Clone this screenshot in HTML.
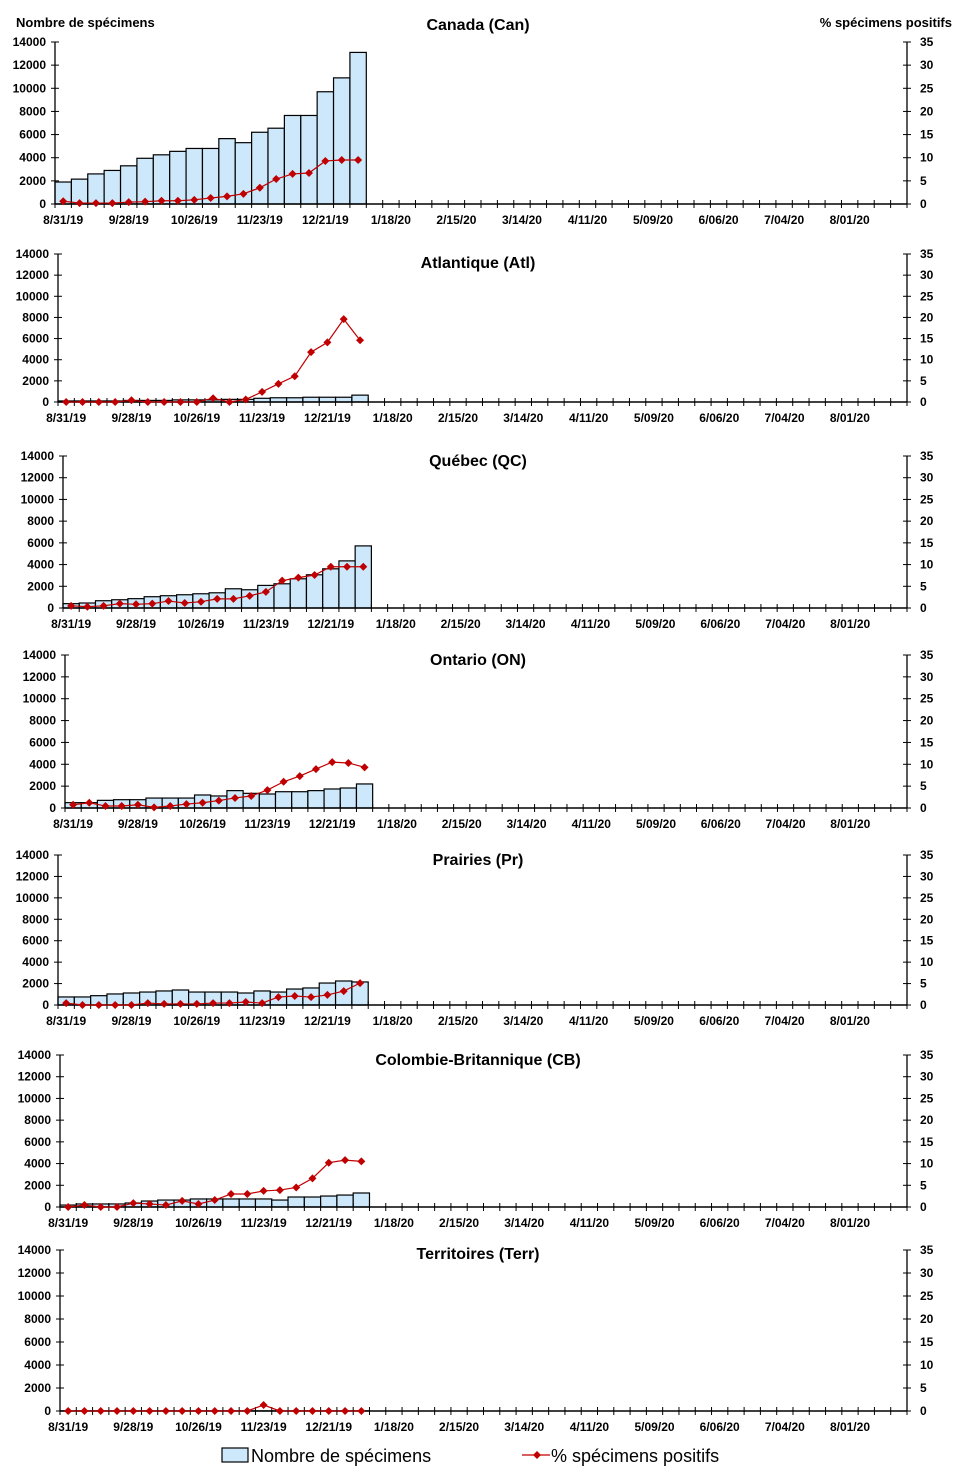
<!DOCTYPE html>
<html><head><meta charset="utf-8">
<style>
body{margin:0;background:#fff;}
svg{display:block;font-family:"Liberation Sans",Arial,sans-serif;}
.t{font-weight:bold;font-size:12px;fill:#000}
.ax{font-weight:bold;font-size:13px;fill:#000}
.ti{font-weight:bold;font-size:16px;fill:#000}
</style></head>
<body>
<svg id="c" width="958" height="1476" viewBox="0 0 958 1476"></svg>
<script>
const weekLabels=["8/31/19","9/28/19","10/26/19","11/23/19","12/21/19","1/18/20","2/15/20","3/14/20","4/11/20","5/09/20","6/06/20","7/04/20","8/01/20"];
const yTicksCount=[0,2000,4000,6000,8000,10000,12000,14000];
const yTicksPct=[0,5,10,15,20,25,30,35];
const titles=["Canada (Can)","Atlantique (Atl)","Québec (QC)","Ontario (ON)","Prairies (Pr)","Colombie-Britannique (CB)","Territoires (Terr)"];
const canCount=[1900,2150,2600,2900,3300,3950,4250,4550,4800,4800,5650,5300,6200,6550,7650,7650,9700,10900,13100];
const canPct=[0.6,0.2,0.2,0.2,0.4,0.5,0.7,0.7,0.9,1.3,1.65,2.2,3.5,5.4,6.5,6.7,9.3,9.5,9.5];
const atlCount=[100,100,100,100,150,150,150,200,200,200,250,250,350,400,400,450,450,450,650];
const atlPct=[0,0,0,0,0.4,0,0,0,0,0.9,0,0.6,2.4,4.3,6.1,11.8,14.1,19.6,14.6];
const qcCount=[400,460,670,760,860,1040,1130,1220,1310,1400,1770,1680,2080,2230,2690,3060,3610,4340,5720];
const qcPct=[0.5,0.3,0.5,1,0.85,1,1.6,1.15,1.45,2.1,2.1,2.8,3.7,6.3,7,7.6,9.5,9.5,9.5];
const onCount=[490,490,700,760,760,910,910,910,1190,1100,1590,1340,1280,1490,1490,1590,1740,1830,2200];
const onPct=[0.75,1.2,0.45,0.45,0.75,0.15,0.45,0.9,1.2,1.7,2.3,2.75,4.1,6,7.3,8.9,10.5,10.3,9.3];
const prCount=[750,750,870,1030,1120,1210,1310,1400,1210,1210,1210,1120,1310,1210,1490,1590,2050,2240,2150];
const prPct=[0.45,0,0,0,0,0.45,0.25,0.25,0.25,0.45,0.45,0.7,0.45,1.85,2.1,1.85,2.35,3.25,5.1];
const cbCount=[180,280,280,280,370,550,640,640,740,740,740,740,740,640,920,920,1010,1100,1290];
const cbPct=[0,0.45,0,0,0.9,0.7,0.45,1.4,0.7,1.6,3,3,3.7,3.9,4.5,6.6,10.2,10.8,10.5];
const terrCount=[10,10,10,10,10,10,10,10,10,10,10,10,10,10,10,10,10,10,10];
const terrPct=[0,0,0,0,0,0,0,0,0,0,0,0,1.3,0,0,0,0,0,0];
const counts=[canCount,atlCount,qcCount,onCount,prCount,cbCount,terrCount];
const pcts=[canPct,atlPct,qcPct,onPct,prPct,cbPct,terrPct];
const slugs=["canada","atlantique","quebec","ontario","prairies","colombie-britannique","territoires"];
const geom=[[55,42,204,25],[58,254,402,263],[63,456,608,461],[65,655,808,660],[58,855,1005,860],[60,1055,1207,1060],[60,1250,1411,1254]];
const RIGHT=907,NW=52;
const NS="http://www.w3.org/2000/svg";
const svg=document.getElementById('c');
function mk(tag,attrs,parent,text){const e=document.createElementNS(NS,tag);for(const k in attrs)e.setAttribute(k,attrs[k]);if(text!==undefined)e.textContent=text;(parent||svg).appendChild(e);return e;}
function diamond(x,y,p){return mk('polygon',{points:`${x},${y-4} ${x+4},${y} ${x},${y+4} ${x-4},${y}`,fill:'#c00000'},p);}
for(let pi=0;pi<7;pi++){
  const [L,T,B,TY]=geom[pi];
  const g=mk('g',{});
  
  
  const ww=(RIGHT-L)/NW;
  const xs=i=>L+i*ww;
  const yc=v=>B-(v/14000)*(B-T);
  const yp=v=>B-(v/35)*(B-T);
  const tt=mk('text',{x:478,y:TY+5,'text-anchor':'middle',class:'ti'},g,titles[pi]);
  
  
  counts[pi].forEach((v,i)=>{
    const r=mk('rect',{x:xs(i),y:yc(v),width:ww,height:B-yc(v),fill:'#cce8fa',stroke:'#000','stroke-width':1.2},g);
    
    
  });
  mk('line',{x1:L,y1:T,x2:L,y2:B,stroke:'#000','stroke-width':1.3},g);
  mk('line',{x1:RIGHT,y1:T,x2:RIGHT,y2:B,stroke:'#000','stroke-width':1.3},g);
  mk('line',{x1:L,y1:B,x2:RIGHT,y2:B,stroke:'#000','stroke-width':1.5},g);
  yTicksCount.forEach(v=>{
    mk('line',{x1:L-4,y1:yc(v),x2:L+4,y2:yc(v),stroke:'#000'},g);
    mk('text',{x:L-9,y:yc(v)+4,'text-anchor':'end',class:'t'},g,String(v));
  });
  yTicksPct.forEach(v=>{
    mk('line',{x1:RIGHT-4,y1:yp(v),x2:RIGHT+4,y2:yp(v),stroke:'#000'},g);
    mk('text',{x:RIGHT+13,y:yp(v)+4,class:'t'},g,String(v));
  });
  for(let i=0;i<=NW;i++) mk('line',{x1:xs(i),y1:B-4,x2:xs(i),y2:B+4,stroke:'#000'},g);
  weekLabels.forEach((l,k)=>{
    mk('text',{x:xs(k*4+0.5),y:B+20,'text-anchor':'middle',class:'t'},g,l);
  });
  const p=pcts[pi];
  mk('polyline',{points:p.map((v,i)=>`${xs(i+0.5)},${yp(v)}`).join(' '),fill:'none',stroke:'#c00000','stroke-width':1.2},g);
  p.forEach((v,i)=>{const d=diamond(xs(i+0.5),yp(v),g);});
}
const a1=mk('text',{x:16,y:27,class:'ax'},svg,'Nombre de spécimens');


const a2=mk('text',{x:952,y:27,'text-anchor':'end',class:'ax'},svg,'% spécimens positifs');


const lg=mk('g',{});


mk('rect',{x:222,y:1448,width:26,height:14,fill:'#cce8fa',stroke:'#000','stroke-width':1.2},lg);
mk('text',{x:251,y:1462,'font-size':'18px',fill:'#000'},lg,'Nombre de spécimens');
mk('line',{x1:522,y1:1455,x2:550,y2:1455,stroke:'#c00000','stroke-width':1.2},lg);
diamond(537,1455,lg);
mk('text',{x:551,y:1462,'font-size':'18px',fill:'#000'},lg,'% spécimens positifs');
</script>
</body></html>
